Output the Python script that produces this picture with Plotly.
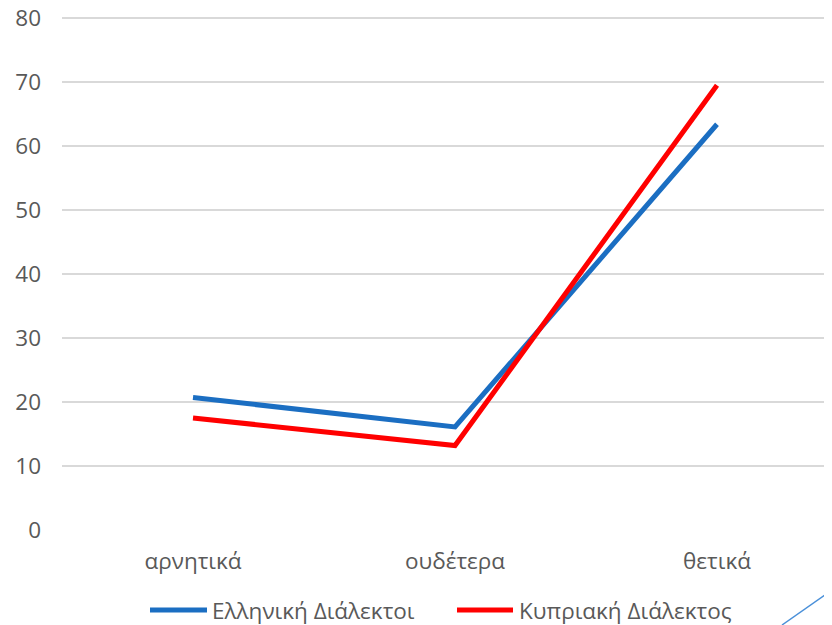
import plotly.graph_objects as go

categories = ["αρνητικά", "ουδέτερα", "θετικά"]
series_names = ["Ελληνική Διάλεκτοι", "Κυπριακή Διάλεκτος"]
greek_values = [20.7, 16.1, 63.4]
cypriot_values = [17.5, 13.2, 69.5]
y_ticks = [0, 10, 20, 30, 40, 50, 60, 70, 80]

colors = ["#1B6EC2", "#FF0000"]
font_family = "Open Sans, Noto Sans, sans-serif"
text_color = "#595959"

# layout geometry (figure pixels; page body adds an 8px offset)
L, T, PW, PH = 54, 7, 770, 515
W, H = 824, 617
Y_TOP = 80 * PH / 512.0


def px_x(x):
    return (x - L) / PW


def px_y(y):
    return (T + PH - y) / PH


fig = go.Figure()
for name, vals, col in zip(series_names, [greek_values, cypriot_values], colors):
    fig.add_trace(go.Scatter(
        x=categories, y=vals, mode="lines", name=name,
        line=dict(color=col, width=5, shape="linear"),
        showlegend=False,
    ))

# custom legend (long line symbols like the reference)
legend_items = [(142, 199, 202), (449, 505, 509)]
shapes = []
annotations = []
ly = 602
for (x0, x1, tx), name, col in zip(legend_items, series_names, colors):
    shapes.append(dict(type="line", xref="paper", yref="paper",
                       x0=px_x(x0), x1=px_x(x1), y0=px_y(ly), y1=px_y(ly),
                       line=dict(color=col, width=5)))
    annotations.append(dict(text=name, xref="paper", yref="paper",
                            x=px_x(tx), y=px_y(ly), xanchor="left", yanchor="middle",
                            showarrow=False, font=dict(size=22.5, color=text_color)))

# decorative thin line at bottom-right
shapes.append(dict(type="line", xref="paper", yref="paper",
                   x0=px_x(774), y0=px_y(617), x1=px_x(824), y1=px_y(582),
                   line=dict(color="#4A90D9", width=1.5)))

fig.update_layout(
    width=W, height=H,
    margin=dict(l=L, r=W - L - PW, t=T, b=H - T - PH, autoexpand=False),
    plot_bgcolor="white", paper_bgcolor="white",
    font=dict(family=font_family, size=22.5, color=text_color),
    showlegend=False,
    xaxis=dict(type="category", range=[-0.5, -0.5 + PW / 262], showgrid=False,
               zeroline=False, showline=False, ticks="", ticklabelstandoff=15),
    yaxis=dict(range=[0, Y_TOP], tickvals=y_ticks, showgrid=True, gridcolor="#D9D9D9",
               gridwidth=1.5, zeroline=False, showline=False, ticks="",
               ticklabelstandoff=20, ticklabeloverflow="allow"),
    shapes=shapes,
    annotations=annotations,
)

fig.write_html("out.html")
